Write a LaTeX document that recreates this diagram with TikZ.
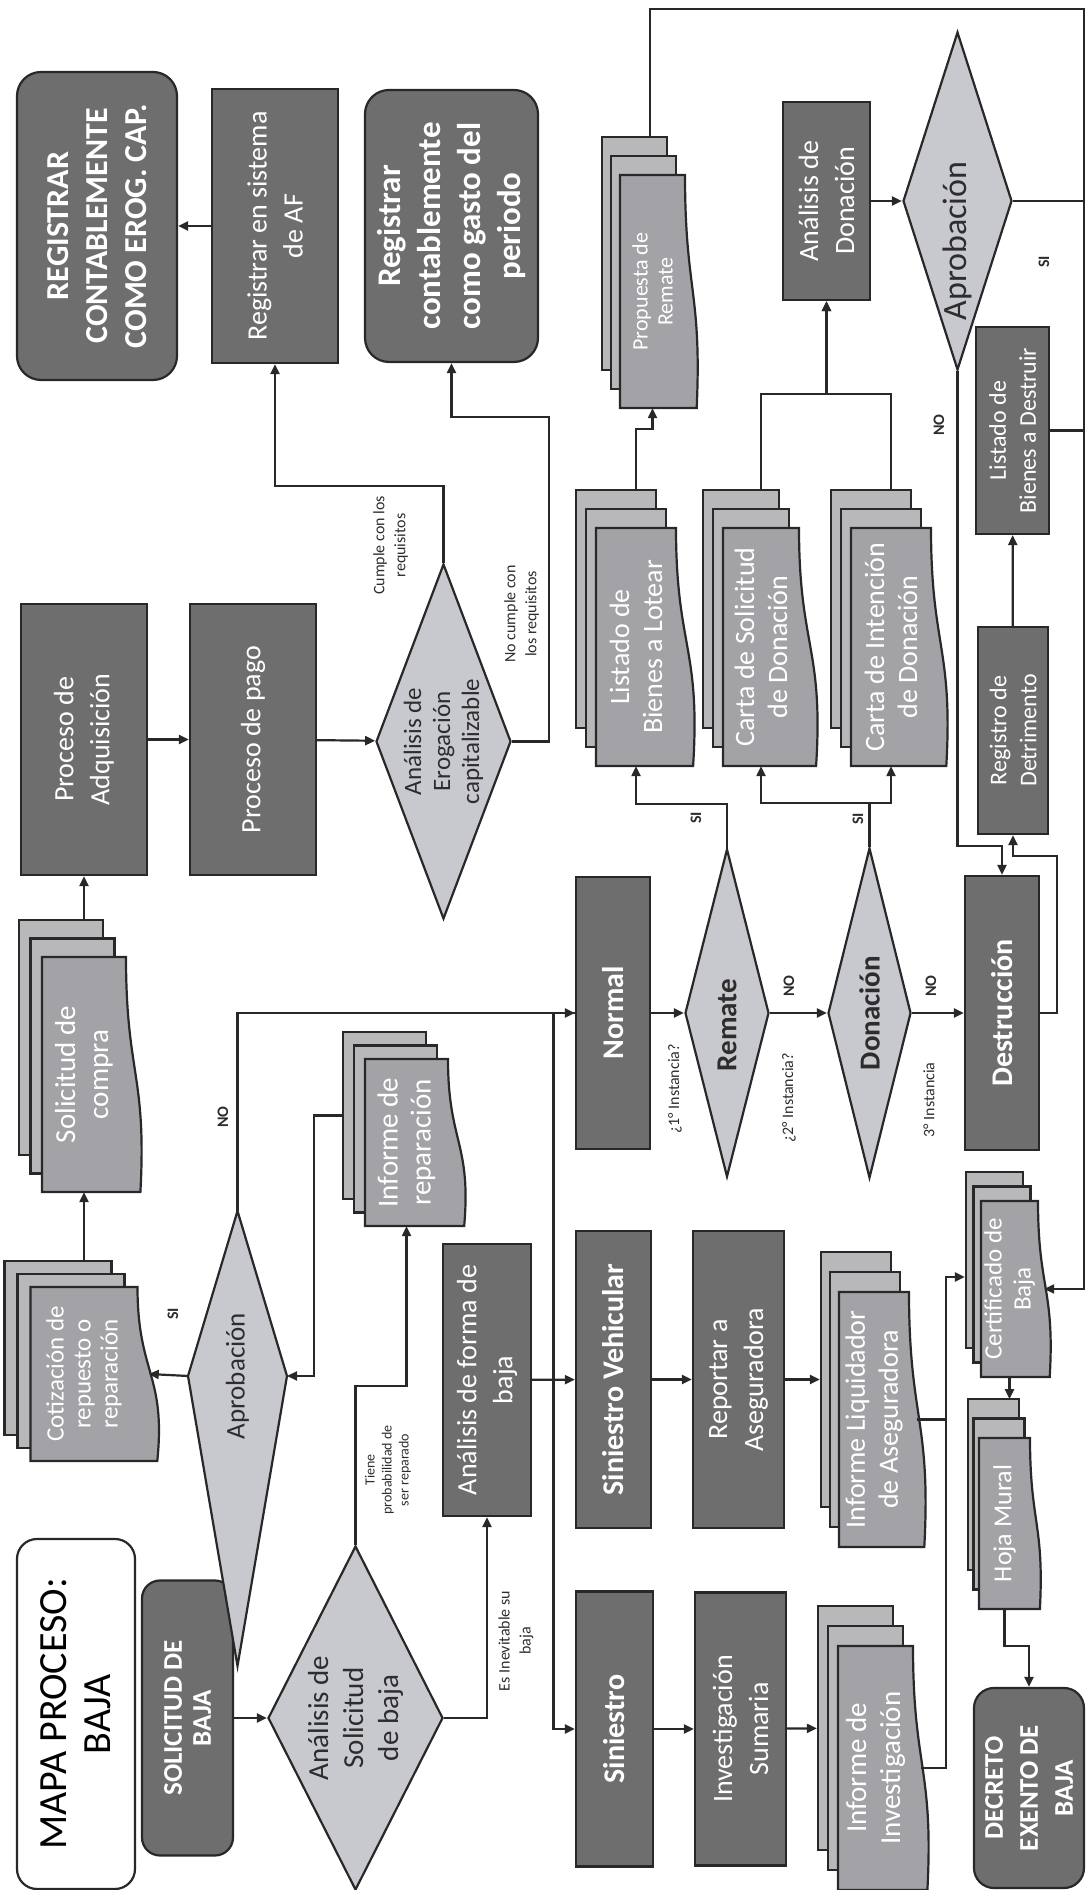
\documentclass[tikz,border=0pt]{standalone}
\usepackage{fontspec}
\setmainfont{Carlito}
\usepackage{tikz}
\usetikzlibrary{arrows.meta,shapes.geometric,calc}

\definecolor{boxgray}{RGB}{110,110,110}
\definecolor{docfill}{RGB}{163,163,167}
\definecolor{docback}{RGB}{184,184,186}
\definecolor{decgray}{RGB}{200,200,207}
\definecolor{linegray}{RGB}{40,40,40}
\definecolor{textdark}{RGB}{45,45,45}

% name, centre, width, height, wave, page offset, font size, text
\newcommand{\docstack}[8]{%
  \node[docpage, minimum width=#3, minimum height=#4] (#1-2) at ($(#2)+2*(#6)$) {};
  \node[docpage, minimum width=#3, minimum height=#4] (#1-1) at ($(#2)+(#6)$) {};
  \draw[docfront] ($(#2)+(-#3/2,#4/2)$) -- ($(#2)+(#3/2,#4/2)$) -- ($(#2)+(#3/2,-#4/2)$)
    .. controls ($(#2)+(0,-#4/2)$) and ($(#2)+(0,-#4/2-1.3*#5)$) .. ($(#2)+(-#3/2,-#4/2-0.9*#5)$) -- cycle;
  \node[doctext, minimum width=#3, minimum height=#4, font=\fontsize#7\selectfont] (#1) at (#2) {#8};
}

\begin{document}
\begin{tikzpicture}[
    x=1pt, y=1pt, rotate=90, transform shape,
    box/.style={draw=linegray, line width=2.2pt, fill=boxgray, text=white, align=center, inner sep=3pt, font=\fontsize{28}{36}\selectfont},
    boldbox/.style={box, font=\fontsize{30}{36}\bfseries\selectfont},
    endbox/.style={box, rounded corners=24pt, font=\fontsize{32}{39}\bfseries\selectfont},
    decision/.style={diamond, draw=linegray, line width=2.2pt, fill=decgray, inner sep=0pt},
    kitefill/.style={draw=linegray, line width=2.2pt, fill=decgray},
    dectext/.style={text=textdark, align=center, inner sep=0pt, font=\fontsize{27}{32}\selectfont},
    docpage/.style={draw=linegray, line width=2.2pt, fill=docback, inner sep=0pt},
    docfront/.style={draw=linegray, line width=2.2pt, fill=docfill},
    doctext/.style={text=white, align=center, inner sep=0pt},
    tag/.style={text=textdark, align=center, inner sep=0pt, font=\fontsize{16}{21}\selectfont},
    yesno/.style={tag, font=\fontsize{16}{21}\bfseries\selectfont},
    arr/.style={draw=linegray, line width=2.2pt, -{Triangle[length=10pt,width=9pt]}},
    link/.style={draw=linegray, line width=2.2pt}
]
\useasboundingbox (0,0) rectangle (1890,-1090);

\node[box, fill=white, text=black, rounded corners=20pt, minimum width=350, minimum height=118, font=\fontsize{40}{44}\selectfont] (titulo) at (176,-76) {MAPA PROCESO:\\BAJA};
\node[endbox, rounded corners=18pt, minimum width=275, minimum height=91, font=\fontsize{27}{29}\bfseries\selectfont] (solbaja) at (172,-187.5) {SOLICITUD DE\\BAJA};
\node[decision, minimum width=344, minimum height=175] (soldia) at (172,-355.5) {};
\node[dectext, font=\fontsize{29}{35}\selectfont] (soldia-t) at (soldia) {Análisis de\\Solicitud\\de baja};
\node[box, minimum width=272, minimum height=88] (formabaja) at (510,-487) {Análisis de forma de\\baja};

\coordinate (aprob1-e) at (679,-237.5);
\coordinate (aprob1-n) at (514,-188);
\coordinate (aprob1-w) at (224,-237.5);
\coordinate (aprob1-s) at (514,-287);
\draw[kitefill] (aprob1-e) -- (aprob1-n) -- (aprob1-w) -- (aprob1-s) -- cycle;
\node[dectext] (aprob1) at (514,-237.5) {Aprobación};

\docstack{cotiz}{516,-84}{174}{107}{22}{13,13}{{25}{27}}{Cotización de\\repuesto o\\reparación}
\docstack{solcompra}{815.5,-84}{235}{84}{16}{18.5,11.5}{{29}{33}}{Solicitud de\\compra}
\docstack{inforep}{747.5,-406.5}{167}{83}{18}{13.5,11}{{29}{33}}{Informe de\\reparación}

\node[box, minimum width=271, minimum height=126] (adq) at (1150.5,-84) {Proceso de\\Adquisición};
\node[box, minimum width=271, minimum height=126] (pago) at (1150.5,-253) {Proceso de pago};
\node[decision, minimum width=355, minimum height=135] (erog) at (1148.5,-443.5) {};
\node[dectext, font=\fontsize{25}{29}\selectfont] (erog-t) at (erog) {Análisis de\\Erogación\\capitalizable};
\node[endbox, minimum width=308, minimum height=160] (regcap) at (1664,-97) {REGISTRAR\\CONTABLEMENTE\\COMO EROG. CAP.};
\node[box, minimum width=274, minimum height=126] (regaf) at (1664,-275) {Registrar en sistema\\de AF};
\node[endbox, minimum width=272, minimum height=173, font=\fontsize{33}{40}\bfseries\selectfont] (gasto) at (1664,-451.5) {Registrar\\contablemente\\como gasto del\\periodo};

\node[boldbox, minimum width=272, minimum height=74] (normal) at (877,-613) {Normal};
\node[boldbox, minimum width=297, minimum height=75] (sinveh) at (510.5,-613.5) {Siniestro Vehicular};
\node[boldbox, minimum width=275, minimum height=77] (siniestro) at (161,-614.5) {Siniestro};
\node[box, minimum width=297, minimum height=91] (reportar) at (510.5,-738.5) {Reportar a\\Aseguradora};
\node[box, minimum width=273, minimum height=91] (investig) at (161,-740.5) {Investigación\\Sumaria};
\node[decision, minimum width=328, minimum height=84] (remate) at (877,-727) {};
\node[dectext, font=\fontsize{29}{32}\bfseries\selectfont] (remate-t) at ($(remate)+(-12,0)$) {Remate};
\node[decision, minimum width=330, minimum height=83] (donacion) at (877,-869.5) {};
\node[dectext, font=\fontsize{29}{32}\bfseries\selectfont] (donacion-t) at (donacion) {Donación};
\node[boldbox, minimum width=274, minimum height=74] (destruc) at (877,-1002) {Destrucción};

\docstack{listado}{1243,-636}{238}{80}{19}{19,10}{{28}{33}}{Listado de\\Bienes a Lotear}
\docstack{cartasol}{1243,-761}{238}{76}{19}{19,10}{{28}{33}}{Carta de Solicitud\\de Donación}
\docstack{cartaint}{1243,-891}{238}{80}{17}{19,10}{{28}{33}}{Carta de Intención\\de Donación}
\docstack{propuesta}{1598.5,-652.5}{233}{65}{13}{19,9}{{22}{25}}{Propuesta de\\Remate}
\docstack{infoliq}{470.5,-874}{255}{70}{17}{20,9}{{28}{33}}{Informe Liquidador\\de Aseguradora}
\docstack{infoinv}{122,-875.5}{244}{75}{16}{20,10}{{29}{34}}{Informe de\\Investigación}
\docstack{certificado}{601,-1009.5}{176}{57}{13}{14.5,7.5}{{25}{29}}{Certificado de\\Baja}
\docstack{hoja}{366.5,-1004.5}{171}{51}{11}{19.5,5.5}{{26}{30}}{Hoja Mural}

\node[box, minimum width=198, minimum height=87] (analdon) at (1689,-826.5) {Análisis de\\Donación};
\node[decision, minimum width=338, minimum height=109] (aprob2) at (1689,-957.5) {};
\node[dectext, font=\fontsize{34}{40}\selectfont] (aprob2-t) at ($(aprob2)+(-40,0)$) {Aprobación};
\node[box, minimum width=207, minimum height=73, font=\fontsize{24}{30}\selectfont] (destruir) at (1459.5,-1012.5) {Listado de\\Bienes a Destruir};
\node[box, minimum width=207, minimum height=70, font=\fontsize{24}{30}\selectfont] (detrim) at (1159.5,-1013) {Registro de\\Detrimento};
\node[endbox, rounded corners=20pt, minimum width=200, minimum height=110, font=\fontsize{27}{35}\bfseries\selectfont] (decreto) at (102,-1029) {DECRETO\\EXENTO DE\\BAJA};

\node[tag] (cumple) at (1344.5,-390.5) {Cumple con los\\requisitos};
\node[tag] (nocumple) at (1276,-521.5) {No cumple con\\los requisitos};
\node[tag, font=\fontsize{14}{17}\selectfont] (tiene) at (420,-388) {Tiene\\probabilidad de\\ser reparado};
\node[tag] (inevitable) at (249,-516) {Es Inevitable su\\baja};
\node[tag] (inst1) at (801,-675) {¿1° Instancia?};
\node[tag] (inst2) at (792,-789) {¿2° Instancia?};
\node[tag] (inst3) at (790,-929) {3° Instancia};
\node[yesno] (si1) at (576,-173) {SI};
\node[yesno] (no1) at (773,-223) {NO};
\node[yesno] (si2) at (1072,-696) {SI};
\node[yesno] (no2) at (904,-789) {NO};
\node[yesno] (si3) at (1071,-858) {SI};
\node[yesno] (no3) at (904,-931) {NO};
\node[yesno] (no4) at (1465,-939) {NO};
\node[yesno] (si4) at (1628,-1044) {SI};

\draw[arr] (solbaja) -- (soldia);
\draw[arr] (soldia.south) |- (formabaja.west);
\draw[arr] (soldia.east) -- ++(159,0) |- (inforep.west);
\draw[arr] (inforep-2.north) -- ++(0,28) -| (aprob1-s);
\draw[arr] (aprob1-n) -- ($(cotiz.south)+(0,-11)$);
\draw[arr] ($(cotiz-2.east)+(0,-26)$) -- (solcompra.west);
\draw[arr] ($(solcompra-2.east)+(0,-23)$) -- (adq.west);
\draw[arr] (adq) -- (pago);
\draw[arr] (pago) -- (erog);
\draw[arr] (erog.east) -- ++(77,0) |- (regaf.west);
\draw[arr] (erog.south) -- ++(0,-36.5) -- ++(324.5,0) |- (gasto.west);
\draw[arr] (regaf) -- (regcap);
\draw[arr] (aprob1-e) -| (normal.north);
\draw[arr] (formabaja) -- (sinveh);
\coordinate (bus) at ($(formabaja.south)!0.5!(sinveh.north)$);
\draw[link] (bus) -| (normal.north);
\draw[arr] (bus) -| (siniestro.north);
\draw[arr] (sinveh) -- (reportar);
\draw[arr] (siniestro) -- (investig);
\draw[arr] (reportar) -- (infoliq-2);
\draw[arr] (investig) -- (infoinv-2);
\draw[arr] (normal) -- (remate);
\draw[arr] (remate) -- (donacion);
\draw[arr] (donacion) -- (destruc);
\draw[arr] (remate.east) -- ++(44,0) |- (listado.west);
\draw[arr] (donacion.east) -- ++(44,0) coordinate (donsi) |- (cartasol.west);
\draw[arr] (donsi) |- (cartaint.west);
\draw[arr] ($(listado-2.east)+(0,-20)$) -- ++(60,0) |- (propuesta.west);
\draw[arr] ($(cartasol-2.east)+(0,-20)$) -- ++(95,0) |- (analdon.west);
\draw[arr] ($(cartaint-2.east)+(0,-20)$) -- ++(95,0) |- (analdon.west);
\draw[arr] (analdon) -- (aprob2);
\draw[arr] (aprob2.west) -- ++(-475,0) |- (destruc.east);
\draw[arr] (destruc.south) -- ++(0,-17) -- ++(157,0) |- (detrim.west);
\draw[arr] (detrim) -- (destruir);
\draw[arr] ($(propuesta-2.east)+(0,-15.5)$) -- ++(127,0) -- ++(0,-434) -| ($(certificado.south)+(0,-6)$);
\draw[link] (aprob2.south) -- ++(0,-71.5);
\draw[link] (destruir.south) -- ++(0,-35);
\draw[link] ($(infoliq.south)+(0,-8)$) -- ++(0,-29);
\draw[arr] ($(infoinv.south)+(0,-8)$) -- ++(0,-25) -| ($(certificado-2.north)+(-17,0)$);
\draw[arr] (certificado.west) -- ++(-22,0);
\draw[arr] (hoja.west) -- ++(-37,0) |- (decreto.east);
\end{tikzpicture}
\end{document}
